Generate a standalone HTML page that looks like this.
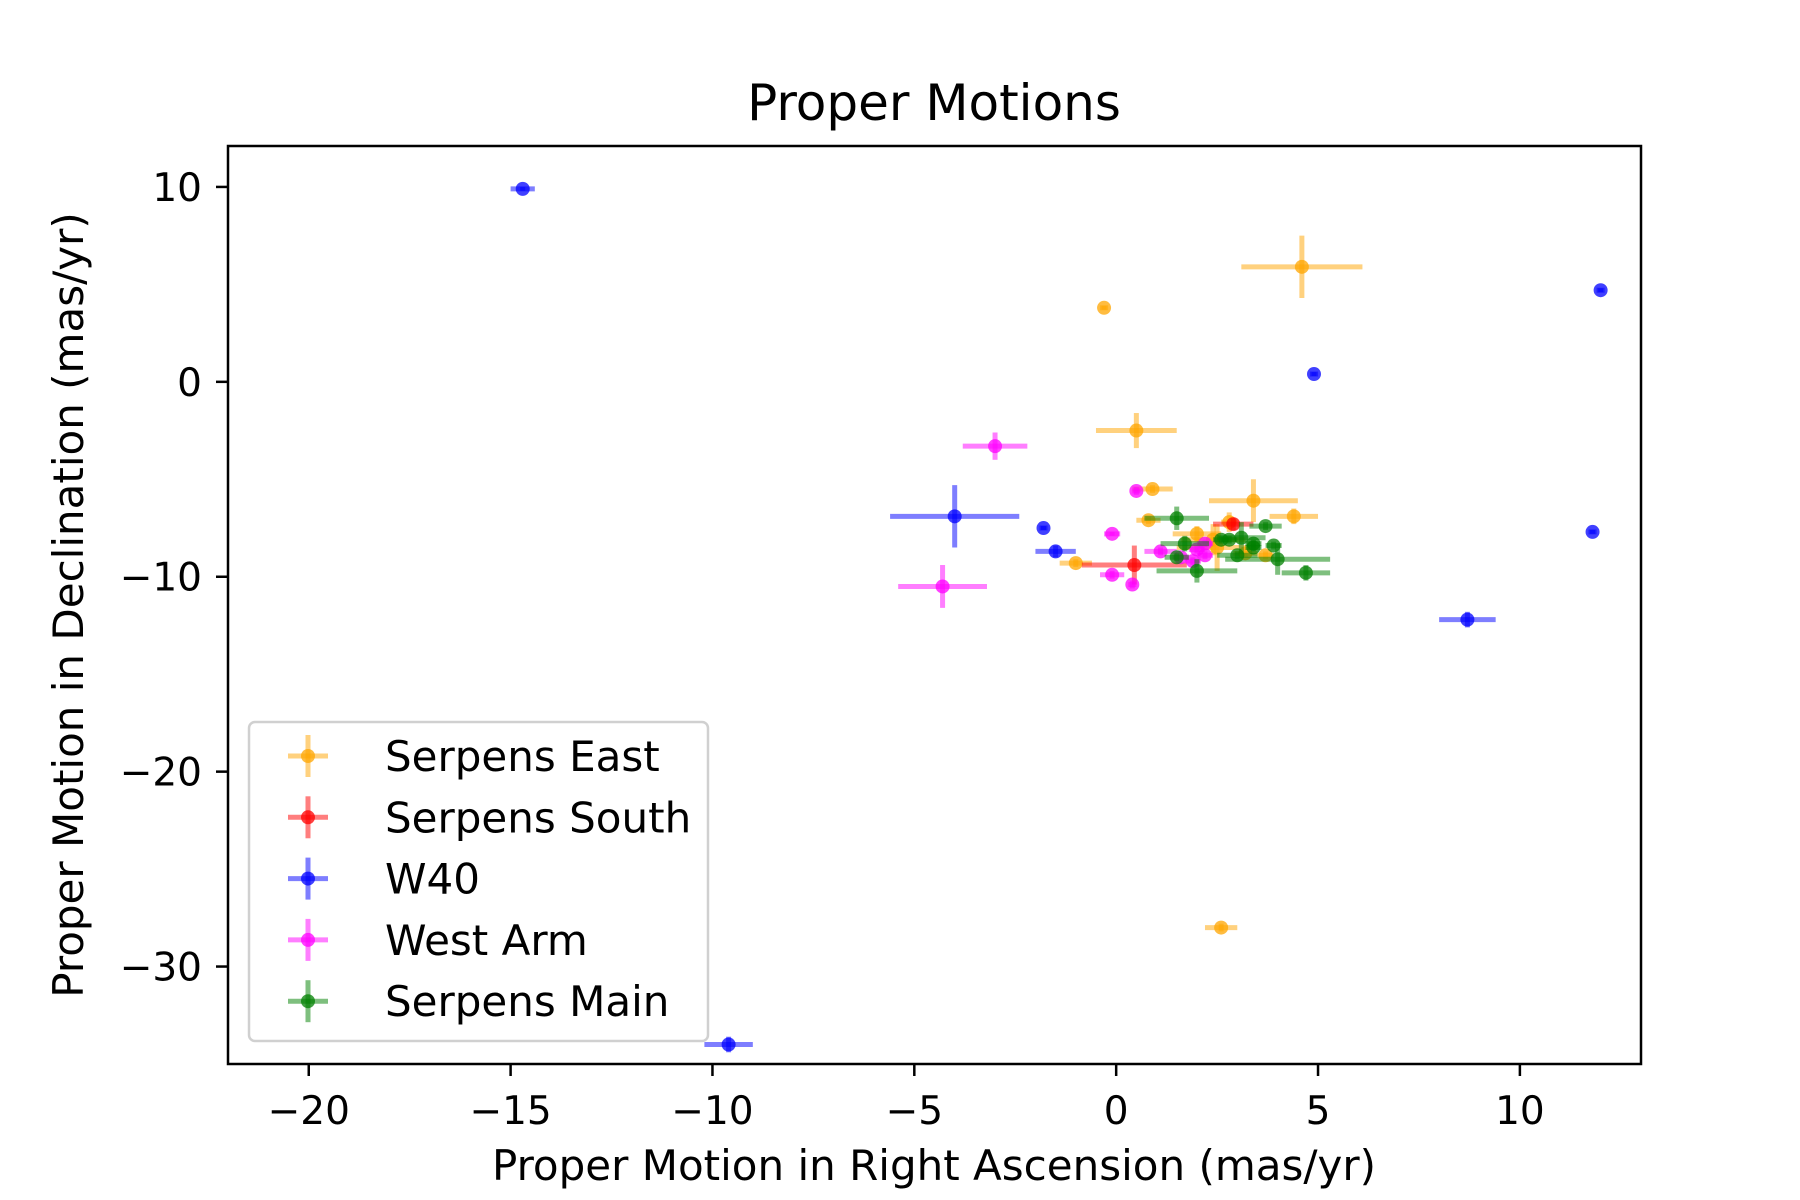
<!DOCTYPE html>
<html><head><meta charset="utf-8"><style>
html,body{margin:0;padding:0;background:#fff}
svg{display:block;font-family:"DejaVu Sans","Liberation Sans",sans-serif}
</style></head><body>
<svg id="chart" width="1800" height="1200" viewBox="0 0 1800 1200">
<rect width="1800" height="1200" fill="#fff"/>
<text x="934" y="120" font-size="50" text-anchor="middle">Proper Motions</text>
<g id="plot"></g>
<g id="axes"></g>
<text x="934" y="1180" font-size="42" text-anchor="middle">Proper Motion in Right Ascension (mas/yr)</text>
<text x="0" y="0" font-size="42" text-anchor="middle" transform="translate(83,605) rotate(-90)">Proper Motion in Declination (mas/yr)</text>
<g id="legend"></g>
</svg>
<script>
const seriesNames = ["Serpens East","Serpens South","W40","West Arm","Serpens Main"];
const seriesColors = ["orange","red","blue","magenta","green"];
const eastX = [4.6,-0.3,0.5,0.9,3.4,4.4,0.8,-1.0,2.6,2.0,2.4,2.8,2.5,3.2,3.7];
const eastY = [5.9,3.8,-2.5,-5.5,-6.1,-6.9,-7.1,-9.3,-28.0,-7.8,-8.1,-7.2,-8.5,-8.8,-8.9];
const eastXe = [1.5,0.1,1.0,0.5,1.1,0.6,0.3,0.4,0.4,0.6,0.8,0.2,1.0,0.3,0.2];
const eastYe = [1.6,0.1,0.9,0.2,1.1,0.4,0.2,0.2,0.2,0.4,0.8,0.5,1.2,0.2,0.2];
const southX = [0.45,2.9];
const southY = [-9.4,-7.3];
const southXe = [1.3,0.5];
const southYe = [1.0,0.3];
const w40X = [-14.7,-9.6,-4.0,-1.8,-1.5,4.9,12.0,11.8,8.7];
const w40Y = [9.9,-34.0,-6.9,-7.5,-8.7,0.4,4.7,-7.7,-12.2];
const w40Xe = [0.3,0.6,1.6,0.1,0.5,0.1,0.1,0.1,0.7];
const w40Ye = [0.1,0.4,1.6,0.1,0.3,0.1,0.1,0.1,0.4];
const westX = [-3.0,-4.3,0.5,-0.1,-0.1,0.4,1.1,1.6,2.0,2.2,1.9,2.2];
const westY = [-3.3,-10.5,-5.6,-7.8,-9.9,-10.4,-8.7,-9.0,-8.6,-8.3,-9.2,-8.9];
const westXe = [0.8,1.1,0.1,0.2,0.3,0.1,0.4,0.2,0.2,0.2,0.2,0.2];
const westYe = [0.7,1.1,0.2,0.1,0.2,0.2,0.2,0.2,0.2,0.2,0.2,0.2];
const mainX = [1.5,1.7,1.5,2.0,2.8,3.1,3.4,3.7,3.4,3.9,4.0,4.7,2.6,3.0];
const mainY = [-7.0,-8.3,-9.0,-9.7,-8.1,-8.0,-8.5,-7.4,-8.3,-8.4,-9.1,-9.8,-8.1,-8.9];
const mainXe = [0.8,0.6,0.3,1.0,0.2,0.6,0.2,0.4,0.2,0.2,1.3,0.6,0.2,0.5];
const mainYe = [0.6,0.4,0.2,0.6,0.2,0.8,0.2,0.2,0.2,0.2,0.8,0.4,0.2,0.2];
const xTicks = [-20,-15,-10,-5,0,5,10];
const yTicks = [10,0,-10,-20,-30];
const xTickLabels = ["\u221220","\u221215","\u221210","\u22125","0","5","10"];
const yTickLabels = ["10","0","\u221210","\u221220","\u221230"];

const L=228,R=1641,T=146,B=1064, xmin=-22,xmax=13,ymin=-35,ymax=12.1;
const sx=v=>L+(v-xmin)/(xmax-xmin)*(R-L);
const sy=v=>B-(v-ymin)/(ymax-ymin)*(B-T);
const NS="http://www.w3.org/2000/svg";
function mk(tag,attrs,parent){const e=document.createElementNS(NS,tag);for(const k in attrs)e.setAttribute(k,attrs[k]);parent.appendChild(e);return e;}
const plot=document.getElementById('plot'), axes=document.getElementById('axes'), legend=document.getElementById('legend');
const data=[[eastX,eastY,eastXe,eastYe],[southX,southY,southXe,southYe],[w40X,w40Y,w40Xe,w40Ye],[westX,westY,westXe,westYe],[mainX,mainY,mainXe,mainYe]];
data.forEach((d,s)=>{
  const c=seriesColors[s];
  const g=mk('g',{},plot);
  
  
  for(let i=0;i<d[0].length;i++){
    const x=d[0][i],y=d[1][i],xe=d[2][i],ye=d[3][i];
    const h=mk('line',{x1:sx(x-xe),x2:sx(x+xe),y1:sy(y),y2:sy(y),stroke:c,'stroke-width':5,opacity:0.5},g);
    
    
    const v=mk('line',{x1:sx(x),x2:sx(x),y1:sy(y-ye),y2:sy(y+ye),stroke:c,'stroke-width':5,opacity:0.5},g);
    
    
    const p=mk('circle',{cx:sx(x),cy:sy(y),r:7,fill:c,opacity:0.75},g);
    
    
  }
});
const frame=mk('rect',{x:L,y:T,width:R-L,height:B-T,fill:'none',stroke:'#000','stroke-width':2.5},axes);


xTicks.forEach((t,i)=>{
  const tk=mk('line',{x1:sx(t),x2:sx(t),y1:B,y2:B+12,stroke:'#000','stroke-width':2.5},axes);
  
  
  const tx=mk('text',{x:sx(t),y:B+60,'font-size':39,'text-anchor':'middle'},axes);
  tx.textContent=xTickLabels[i];
  
  
});
yTicks.forEach((t,i)=>{
  const tk=mk('line',{x1:L-12,x2:L,y1:sy(t),y2:sy(t),stroke:'#000','stroke-width':2.5},axes);
  
  
  const tx=mk('text',{x:L-26,y:sy(t)+14,'font-size':39,'text-anchor':'end'},axes);
  tx.textContent=yTickLabels[i];
  
  
});
const lb=mk('rect',{x:249,y:722,width:459,height:319,rx:6,fill:'#fff',stroke:'#ccc','stroke-width':2.5,opacity:0.9},legend);


seriesNames.forEach((n,i)=>{
  const y=756+i*61.3, c=seriesColors[i];
  const g=mk('g',{},legend);
  
  
  mk('line',{x1:288,x2:328,y1:y,y2:y,stroke:c,'stroke-width':5,opacity:0.5},g);
  mk('line',{x1:308,x2:308,y1:y-21,y2:y+21,stroke:c,'stroke-width':5,opacity:0.5},g);
  mk('circle',{cx:308,cy:y,r:7,fill:c,opacity:0.75},g);
  const t=mk('text',{x:385,y:y+15,'font-size':42},g);
  t.textContent=n;
});
</script>
</body></html>
